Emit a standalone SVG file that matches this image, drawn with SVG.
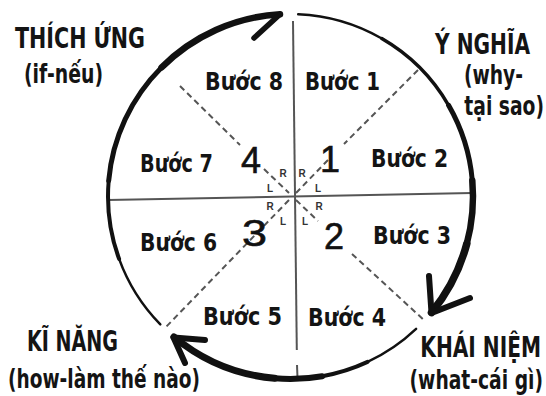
<svg xmlns="http://www.w3.org/2000/svg" width="546" height="396" viewBox="0 0 546 396">
<style>
.h{font-family:"Liberation Sans Narrow","DejaVu Sans Condensed","Liberation Sans",sans-serif;font-weight:bold;font-size:28px;fill:#141414}
.s{font-family:"Liberation Sans Narrow","DejaVu Sans Condensed","Liberation Sans",sans-serif;font-weight:bold;font-size:26px;fill:#141414}
.b{font-family:"Liberation Sans Narrow","DejaVu Sans Condensed","Liberation Sans",sans-serif;font-weight:bold;font-size:24px;fill:#141414}
.n{font-family:"Liberation Sans",sans-serif;font-size:36px;fill:#111;stroke:#111;stroke-width:0.6}
.rl{font-family:"Liberation Sans",sans-serif;font-weight:bold;font-size:10px;fill:#333;text-anchor:middle}
.e{text-anchor:end}
.grid{stroke:#555;stroke-width:2;fill:none}
.dash{stroke:#555;stroke-width:2;stroke-dasharray:6 4;fill:none}
.arc{stroke:#111;fill:none;stroke-linecap:round}
</style>
<rect width="546" height="396" fill="#fff"/>
<g id="connectors">
  <g id="grid">
    <line class="grid" x1="293" y1="21" x2="296.8" y2="350"/>
    <line class="grid" x1="297" y1="365" x2="297.5" y2="378"/>
    <line class="grid" x1="108" y1="200" x2="472" y2="193"/>
  </g>
  <g id="diagonals">
    <line class="dash" x1="180" y1="86" x2="240" y2="145"/>
    <line class="dash" x1="264" y1="169" x2="289" y2="193"/>
    <line class="dash" x1="418" y1="70" x2="344" y2="144"/>
    <line class="dash" x1="328" y1="160" x2="296" y2="193"/>
    <line class="dash" x1="296" y1="200" x2="318" y2="221"/>
    <line class="dash" x1="352" y1="254" x2="425" y2="321"/>
    <line class="dash" x1="289" y1="200" x2="165" y2="328"/>
  </g>
  <g id="arc-left-top">
    <path class="arc" stroke-width="2.5" d="M160.3 324.4 A182.5 182.5 0 0 1 119.1 258.9"/>
    <path class="arc" stroke-width="4" d="M119.1 258.9 A182.5 182.5 0 0 1 108.7 180.6"/>
    <path class="arc" stroke-width="5" d="M108.7 180.6 A182.5 182.5 0 0 1 161.5 67.5"/>
    <path class="arc" stroke-width="6.5" d="M161.5 67.5 A182.5 182.5 0 0 1 280 14.3"/>
    <path class="arc" stroke-width="5.5" d="M280 14.3 L254 38"/>
  </g>
  <g id="arc-right">
    <path class="arc" stroke-width="2.5" d="M298.2 14.2 A182.5 182.5 0 0 1 381.8 38.5"/>
    <path class="arc" stroke-width="3.5" d="M381.8 38.5 A182.5 182.5 0 0 1 448.6 105.3"/>
    <path class="arc" stroke-width="5" d="M448.6 105.3 A182.5 182.5 0 0 1 472.3 180.6"/>
    <path class="arc" stroke-width="6.5" d="M472.3 180.6 A182.5 182.5 0 0 1 466.8 243.7"/>
    <path class="arc" stroke-width="7.5" d="M466.8 243.7 A182.5 182.5 0 0 1 431.5 312.6"/>
    <path class="arc" stroke-width="6" stroke-linejoin="round" d="M429 276 L431.5 313 L470 298"/>
  </g>
  <g id="arc-bottom">
    <path class="arc" stroke-width="2.5" d="M416.1 328.9 A182.5 182.5 0 0 1 367.6 361.9"/>
    <path class="arc" stroke-width="4" d="M367.6 361.9 A182.5 182.5 0 0 1 322.2 376.2"/>
    <path class="arc" stroke-width="6" d="M322.2 376.2 A182.5 182.5 0 0 1 274.6 378.3"/>
    <path class="arc" stroke-width="7" d="M274.6 378.3 A182.5 182.5 0 0 1 173.9 336.9"/>
    <path class="arc" stroke-width="6" stroke-linejoin="round" d="M205 340 L173.5 337.5 L185 363"/>
  </g>
</g>
<g id="node-thich-ung">
  <text class="h" x="15" y="48" textLength="130" lengthAdjust="spacingAndGlyphs">THÍCH ỨNG</text>
  <text class="s" x="24" y="83" textLength="79" lengthAdjust="spacingAndGlyphs">(if-nếu)</text>
</g>
<g id="node-y-nghia">
  <text class="h e" transform="translate(530 54) scale(0.8 1)">Ý NGHĨA</text>
  <text class="s e" transform="translate(523 84) scale(0.8 1)">(why-</text>
  <text class="s e" transform="translate(544 115) scale(0.8 1)">tại sao)</text>
</g>
<g id="node-ki-nang">
  <text class="h" x="27" y="351" textLength="91" lengthAdjust="spacingAndGlyphs">KĨ NĂNG</text>
  <text class="s" x="8" y="388" textLength="192" lengthAdjust="spacingAndGlyphs">(how-làm thế nào)</text>
</g>
<g id="node-khai-niem">
  <text class="h e" transform="translate(541 357) scale(0.8 1)">KHÁI NIỆM</text>
  <text class="s e" transform="translate(543 389) scale(0.8 1)">(what-cái gì)</text>
</g>
<g id="steps">
  <text id="step-8" class="b" x="205" y="90" textLength="78" lengthAdjust="spacingAndGlyphs">Bước 8</text>
  <text id="step-1" class="b" x="305" y="90" textLength="75" lengthAdjust="spacingAndGlyphs">Bước 1</text>
  <text id="step-2" class="b" x="371" y="167" textLength="77" lengthAdjust="spacingAndGlyphs">Bước 2</text>
  <text id="step-7" class="b" x="140" y="172" textLength="73" lengthAdjust="spacingAndGlyphs">Bước 7</text>
  <text id="step-6" class="b" x="140" y="251" textLength="77" lengthAdjust="spacingAndGlyphs">Bước 6</text>
  <text id="step-3" class="b" x="373" y="244" textLength="78" lengthAdjust="spacingAndGlyphs">Bước 3</text>
  <text id="step-5" class="b" x="203" y="325" textLength="79" lengthAdjust="spacingAndGlyphs">Bước 5</text>
  <text id="step-4" class="b" x="308" y="326" textLength="78" lengthAdjust="spacingAndGlyphs">Bước 4</text>
</g>
<g id="quadrant-numbers">
  <text class="n" x="241" y="173">4</text>
  <text class="n" x="320" y="172" font-size="42">1</text>
  <text class="n" x="324" y="249" font-size="42">2</text>
  <text class="n" x="242" y="246" font-size="32" textLength="25" lengthAdjust="spacingAndGlyphs">3</text>
</g>
<g id="rl-marks">
  <text class="rl" x="283" y="177">R</text>
  <text class="rl" x="270" y="192">L</text>
  <text class="rl" x="302" y="177">R</text>
  <text class="rl" x="318" y="192">L</text>
  <text class="rl" x="270" y="210">R</text>
  <text class="rl" x="283" y="225">L</text>
  <text class="rl" x="305" y="225">L</text>
  <text class="rl" x="319" y="210">R</text>
</g>
</svg>
